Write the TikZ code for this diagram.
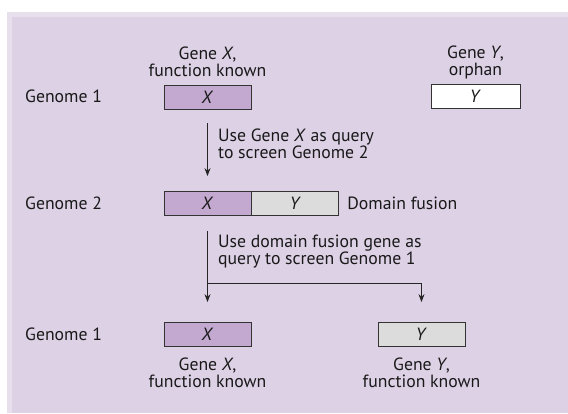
\documentclass[tikz,border=0pt]{standalone}
\usepackage{fontspec}
\setmainfont{PT Sans}
\usetikzlibrary{arrows.meta,positioning}
\definecolor{panelout}{HTML}{E8DFEC}
\definecolor{panel}{HTML}{DDD1E5}
\definecolor{genex}{HTML}{C3A9CF}
\definecolor{geney}{HTML}{DCDCDC}

\begin{document}
\begin{tikzpicture}[x=1pt,y=-1pt,
  every node/.style={font=\fontsize{17.7}{17}\selectfont, text=black!90},
  gene/.style={draw=black!80, line width=0.8pt, minimum width=87pt, minimum height=24pt, inner sep=0pt},
  arr/.style={line width=0.8pt, draw=black!85, -{Stealth[length=8pt,width=6pt]}},
  lab/.style={align=center, inner sep=0pt, text depth=0pt},
  note/.style={align=left, anchor=north west, inner sep=0pt}]
\useasboundingbox (0,0) rectangle (568,413);
\fill[panelout] (7,12) rectangle (568,413);
\fill[panel] (12,17) rectangle (568,413);

% row labels
\foreach \y/\n/\t in {96/ga/Genome 1, 203/gb/Genome 2, 334/gc/Genome 1}
  \node[anchor=west, inner sep=0pt] (\n) at (25,\y) {\t};

% genome 1, before
\node[gene, fill=genex] (gx) at (207.5,97) {\textit{X}};
\node[gene, fill=white, minimum width=89pt] (gy) at (475.5,96.5) {\textit{Y}};
\node[lab, above=8pt of gx] (gxl) {Gene \textit{X},\\function known};
\node[lab, above=8pt of gy] (gyl) {Gene \textit{Y},\\orphan};

% genome 2, fusion
\node[gene, fill=genex] (fx) at (207.5,203.5) {\textit{X}};
\node[gene, fill=geney, right=0pt of fx] (fy) {\textit{Y}};
\node[inner sep=0pt, right=8pt of fy] (dom) {Domain fusion};

% genome 1, after
\node[gene, fill=genex] (bx) at (207.5,334.5) {\textit{X}};
\node[gene, fill=geney] (by) at (421.5,334.5) {\textit{Y}};
\node[lab, below=11pt of bx] (bxl) {Gene \textit{X},\\function known};
\node[lab, below=11pt of by] (byl) {Gene \textit{Y},\\function known};

% steps
\node[note] (n1) at (218,129) {Use Gene \textit{X} as query\\to screen Genome 2};
\node[note] (n2) at (218,235) {Use domain fusion gene as\\query to screen Genome 1};

\draw[arr, shorten <=14pt, shorten >=15pt] (gx) -- (fx);
\coordinate (split) at (207.5,283);
\draw[arr, shorten <=15pt, shorten >=20pt] (fx) -- (bx);
\draw[arr, shorten >=20pt] (split) -| (by);
\end{tikzpicture}
\end{document}
